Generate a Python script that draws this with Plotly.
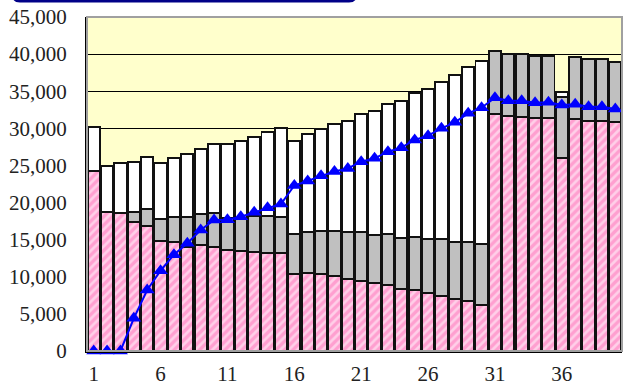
import plotly.graph_objects as go

# Periods 1..40
periods = list(range(1, 41))

# Stacked components (bottom to top)
pink_part = [24250, 18770, 18640, 17420, 16880, 14860, 14730, 14050, 14280, 14050,
             13610, 13470, 13290, 13160, 13160, 10370, 10460, 10330, 10150, 9700,
             9480, 9120, 8890, 8350, 8220, 7770, 7450, 7010, 6740, 6200,
             31890, 31660, 31570, 31350, 31350, 25960, 31260, 30990, 30990, 30810]
gray_part = [0, 0, 0, 1350, 2210, 2880, 3370, 4050, 4180, 4590,
             4290, 4430, 4910, 5040, 4940, 5430, 5620, 5840, 6060, 6290,
             6510, 6510, 6830, 6920, 7180, 7320, 7640, 7720, 7990, 8260,
             8570, 8360, 8450, 8440, 8440, 8310, 8310, 8310, 8310, 8170]
white_part = [5970, 6200, 6650, 6740, 7090, 7550, 7940, 8400, 8760, 9210,
              9950, 10440, 10670, 11260, 11900, 12490, 13160, 13740, 14370, 15040,
              15900, 16750, 17510, 18460, 19320, 20210, 21200, 22460, 23580, 24660,
              0, 0, 0, 0, 0, 670, 0, 0, 0, 0]

# Cumulative line
line_vals = [0, 0, 0, 4400, 8220, 10820, 12980, 14510, 16300, 17650,
             17700, 18100, 18700, 19300, 19800, 22300, 22900, 23600, 24200, 24600,
             25500, 25960, 26850, 27400, 28430, 29010, 30000, 30810, 32020, 32780,
             34130, 33730, 33730, 33460, 33500, 33140, 33230, 32920, 32920, 32600]

x_ticks = [1, 6, 11, 16, 21, 26, 31, 36]
y_ticks = list(range(0, 45001, 5000))

FONT = "Liberation Serif"
outline = dict(color="#111111", width=1.9)

fig = go.Figure()
fig.add_trace(go.Bar(
    x=periods, y=pink_part,
    marker=dict(color="#FF9FD0", line=outline,
                pattern=dict(shape="/", bgcolor="#FF9FD0", fgcolor="#FFFFFF",
                             size=6, solidity=0.45)),
    hoverinfo="skip", showlegend=False))
fig.add_trace(go.Bar(
    x=periods, y=gray_part,
    marker=dict(color="#C0C0C0", line=outline),
    hoverinfo="skip", showlegend=False))
fig.add_trace(go.Bar(
    x=periods, y=white_part,
    marker=dict(color="#FFFFFF", line=outline),
    hoverinfo="skip", showlegend=False))
fig.add_trace(go.Scatter(
    x=periods, y=line_vals, mode="lines+markers",
    line=dict(color="#0000FF", width=2),
    marker=dict(symbol="triangle-up", size=13, color="#0000FF"),
    cliponaxis=False, showlegend=False))

L, R, T, B = 87, 10, 17, 37
W, H = 632, 388
pw, ph = W - L - R, H - T - B


def px_x(v):
    return (v - L) / pw


def px_y(v):
    return (H - B - v) / ph


# Heading banner strip along the top edge
x0, x1 = px_x(12), px_x(357)
yt, yb = px_y(-10), px_y(2.5)
rx, ry = 8 / pw, 8 / ph
banner = (f"M {x0},{yt} L {x0},{yb + ry} Q {x0},{yb} {x0 + rx},{yb} "
          f"L {x1 - rx},{yb} Q {x1},{yb} {x1},{yb + ry} L {x1},{yt} Z")

fig.update_layout(
    width=W, height=H,
    margin=dict(l=L, r=R, t=T, b=B, autoexpand=False),
    barmode="stack", bargap=0.1,
    plot_bgcolor="#FFFFCC", paper_bgcolor="#FFFFFF",
    font=dict(family=FONT, size=21, color="#222222"),
    shapes=[
        dict(type="rect", xref="paper", yref="paper", x0=0, x1=1, y0=0, y1=1,
             line=dict(color="#A0A0A0", width=2), layer="above"),
        dict(type="path", xref="paper", yref="paper", path=banner,
             fillcolor="#000088", line=dict(width=0)),
    ],
)
fig.update_xaxes(
    range=[0.5, 40.5], tickmode="array", tickvals=x_ticks,
    ticktext=[str(v) for v in x_ticks], showgrid=False,
    showline=True, linecolor="black", linewidth=2, ticks="",
    ticklabelstandoff=3, zeroline=False, automargin=False)
fig.update_yaxes(
    range=[0, 45000], tickmode="array", tickvals=y_ticks,
    ticktext=[f"{v:,}" for v in y_ticks],
    showgrid=True, gridcolor="black", gridwidth=1,
    showline=True, linecolor="black", linewidth=2, ticks="",
    ticklabelstandoff=14, zeroline=False, automargin=False)

fig.write_html("out.html")
